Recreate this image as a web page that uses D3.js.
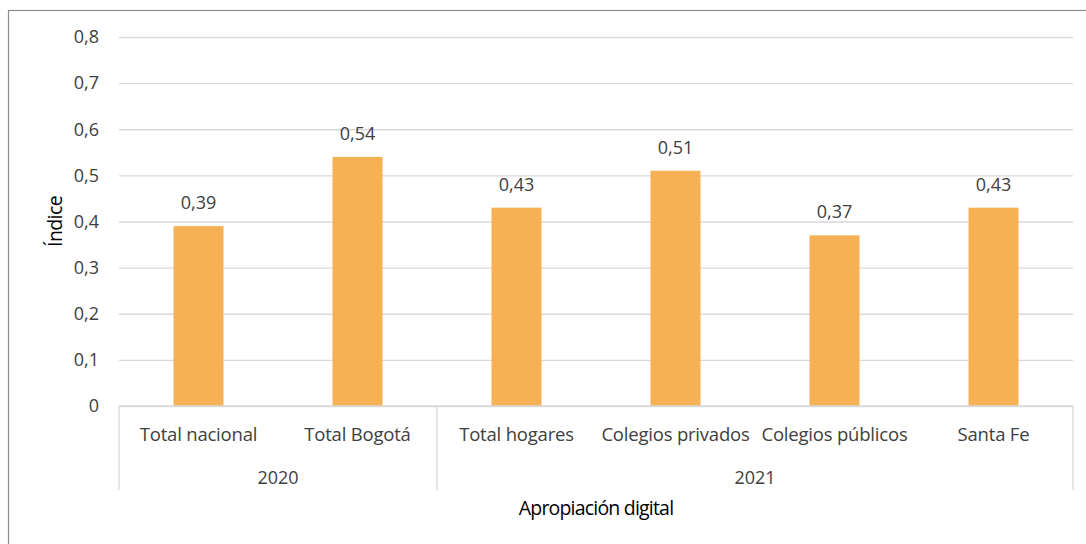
<!DOCTYPE html>
<html>
<head>
<meta charset="utf-8">
<script src="https://cdn.jsdelivr.net/npm/d3@7"></script>
<style>
  body { margin: 0; background: #fff; }
  svg text { font-family: "Open Sans", Lato, sans-serif; }
</style>
</head>
<body>
<div id="chart"></div>
<script>
var w = 1086;
var h = 544;

// data
var categories = ["Total nacional", "Total Bogotá", "Total hogares", "Colegios privados", "Colegios públicos", "Santa Fe"];
var years = ["2020", "2020", "2021", "2021", "2021", "2021"];
var values = [0.39, 0.54, 0.43, 0.51, 0.37, 0.43];
var yTicks = [0, 0.1, 0.2, 0.3, 0.4, 0.5, 0.6, 0.7, 0.8];
var groups = [{ name: "2020", from: 0, to: 2 }, { name: "2021", from: 2, to: 6 }];

// plot area (named to avoid clashing with window.top)
var plotLeft = 119, plotRight = 1073, plotTop = 37, plotBottom = 406;

var svg = d3.select("#chart")
            .append("svg")
            .attr("width", w)
            .attr("height", h);

// outer chart border
svg.append("rect")
    .attr("x", 8.5).attr("y", 10.5)
    .attr("width", w).attr("height", h)
    .attr("fill", "none")
    .attr("stroke", "#8c8c8c")
    .attr("stroke-width", 1.2);

var xScale = d3.scaleBand()
    .domain(d3.range(categories.length))
    .range([plotLeft, plotRight]);

var yScale = d3.scaleLinear()
    .domain([0, 0.8])
    .range([plotBottom, plotTop]);

// gridlines + y labels
var yAxis = d3.axisLeft(yScale)
    .tickValues(yTicks)
    .tickSize(-(plotRight - plotLeft))
    .tickPadding(20)
    .tickFormat(function(d) { return d === 0 ? "0" : d3.format(".1f")(d).replace(".", ","); });

var gy = svg.append("g")
    .attr("transform", "translate(" + plotLeft + ",0)")
    .call(yAxis);
gy.select(".domain").remove();
gy.selectAll(".tick line").attr("stroke", "#d9d9d9").attr("stroke-width", 1.3);
gy.selectAll(".tick text")
    .attr("fill", "#404040")
    .style("font-size", "18px");

// bars
svg.selectAll(".bar")
    .data(values)
    .enter()
    .append("rect")
    .attr("class", "bar")
    .attr("x", function(d, i) { return xScale(i) + xScale.bandwidth() / 2 - 25; })
    .attr("width", 50)
    .attr("y", function(d) { return yScale(d); })
    .attr("height", function(d) { return plotBottom - yScale(d); })
    .attr("fill", "#f6b155");

// value labels
svg.selectAll(".val")
    .data(values)
    .enter()
    .append("text")
    .attr("class", "val")
    .attr("x", function(d, i) { return xScale(i) + xScale.bandwidth() / 2; })
    .attr("y", function(d) { return yScale(d) - 17; })
    .attr("text-anchor", "middle")
    .attr("fill", "#404040")
    .style("font-size", "18px")
    .text(function(d) { return d3.format(".2f")(d).replace(".", ","); });

// category axis line
svg.append("line")
    .attr("x1", plotLeft).attr("x2", plotRight)
    .attr("y1", plotBottom).attr("y2", plotBottom)
    .attr("stroke", "#d9d9d9").attr("stroke-width", 1.3);

// group separators
var seps = [groups[0].from].concat(groups.map(function(g) { return g.to; }));
svg.selectAll(".sep")
    .data(seps)
    .enter()
    .append("line")
    .attr("class", "sep")
    .attr("x1", function(i) { return i < categories.length ? xScale(i) : plotRight; })
    .attr("x2", function(i) { return i < categories.length ? xScale(i) : plotRight; })
    .attr("y1", plotBottom)
    .attr("y2", 490)
    .attr("stroke", "#d9d9d9").attr("stroke-width", 1.3);

// category labels
svg.selectAll(".cat")
    .data(categories)
    .enter()
    .append("text")
    .attr("class", "cat")
    .attr("x", function(d, i) { return xScale(i) + xScale.bandwidth() / 2; })
    .attr("y", 441)
    .attr("text-anchor", "middle")
    .attr("fill", "#404040")
    .style("font-size", "18.5px")
    .style("letter-spacing", "-0.2px")
    .text(function(d) { return d; });

// year labels
svg.selectAll(".year")
    .data(groups)
    .enter()
    .append("text")
    .attr("class", "year")
    .attr("x", function(g) {
        var x0 = xScale(g.from);
        var x1 = g.to < categories.length ? xScale(g.to) : plotRight;
        return (x0 + x1) / 2;
    })
    .attr("y", 484)
    .attr("text-anchor", "middle")
    .attr("fill", "#404040")
    .style("font-size", "18px")
    .text(function(g) { return g.name; });

// axis titles
svg.append("text")
    .attr("x", (plotLeft + plotRight) / 2)
    .attr("y", 515)
    .attr("text-anchor", "middle")
    .attr("fill", "#000")
    .style("font-size", "19.5px")
    .style("letter-spacing", "-0.8px")
    .text("Apropiación digital");

svg.append("text")
    .attr("transform", "translate(62," + (plotTop + plotBottom) / 2 + ") rotate(-90)")
    .attr("text-anchor", "middle")
    .attr("fill", "#000")
    .style("font-size", "19.5px")
    .style("letter-spacing", "-0.6px")
    .text("Índice");
</script>
</body>
</html>
